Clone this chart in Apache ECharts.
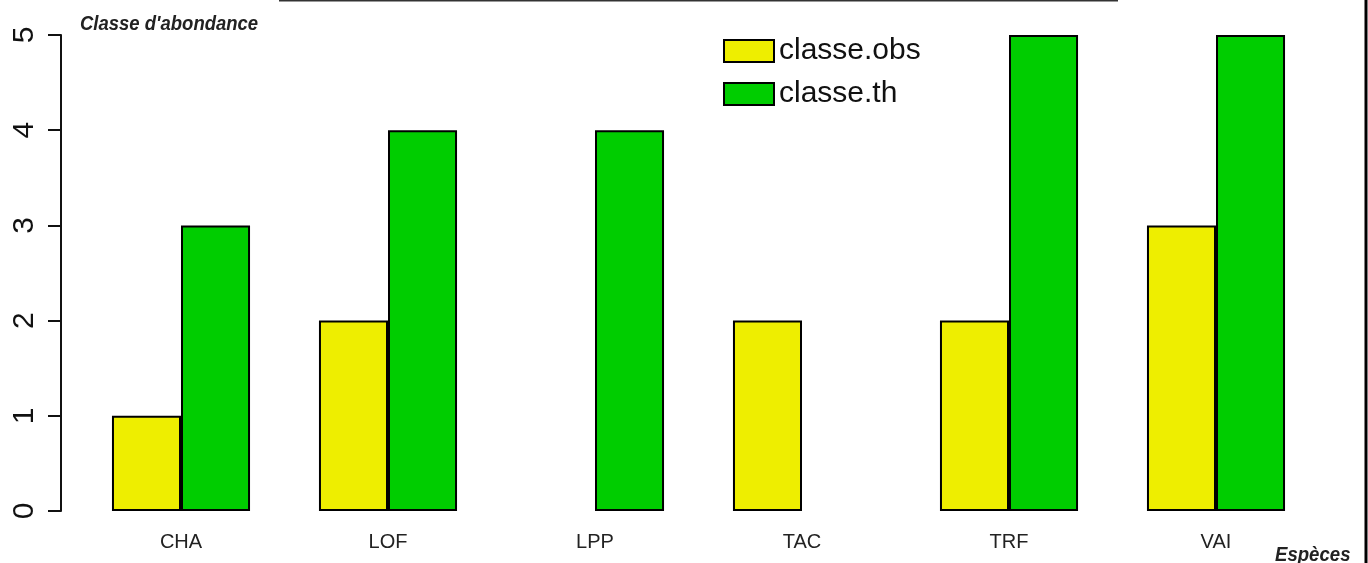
<!DOCTYPE html>
<html>
<head>
<meta charset="utf-8">
<script src="https://cdn.jsdelivr.net/npm/echarts@6/dist/echarts.min.js"></script>
<style>
  html, body { margin: 0; padding: 0; background: #fff; }
  #chart { width: 1368px; height: 563px; }
</style>
</head>
<body>
<div id="chart"></div>
<script>
var especes = ['CHA', 'LOF', 'LPP', 'TAC', 'TRF', 'VAI']
var classeObs = [1, 2, 0, 2, 2, 3]
var classeTh = [3, 4, 4, 0, 5, 5]
var yTicks = [0, 1, 2, 3, 4, 5]

// R barplot draws nothing for a zero bar
function noZero(arr) {
  return arr.map(function (v) { return v === 0 ? null : v })
}

var chart = echarts.init(document.getElementById('chart'))
var font = '"Liberation Sans", Arial, sans-serif'

var option = {
  animation: false,
  backgroundColor: '#fff',
  textStyle: { fontFamily: font },
  grid: { left: 77.5, right: 48.5, top: 35, bottom: 52 },
  legend: {
    orient: 'vertical',
    left: 718,
    top: 31,
    itemWidth: 50,
    itemHeight: 22,
    itemGap: 13,
    icon: 'rect',
    itemStyle: { borderColor: '#000', borderWidth: 2 },
    textStyle: { fontSize: 30, color: '#111', fontFamily: font },
    data: ['classe.obs', 'classe.th']
  },
  xAxis: {
    type: 'category',
    data: especes,
    axisLine: { show: false },
    axisTick: { show: false },
    axisLabel: { fontSize: 20, color: '#222', margin: 21, fontFamily: font }
  },
  yAxis: {
    type: 'value',
    min: yTicks[0],
    max: yTicks[yTicks.length - 1],
    interval: 1,
    offset: 16.5,
    splitLine: { show: false },
    axisLine: { show: true, lineStyle: { color: '#111', width: 2 } },
    axisTick: { show: true, length: 13, lineStyle: { color: '#111', width: 2 } },
    axisLabel: { rotate: 90, fontSize: 30, color: '#111', margin: 21, fontFamily: font }
  },
  series: [
    {
      name: 'classe.obs',
      type: 'bar',
      barGap: '0%',
      barCategoryGap: '33.3%',
      itemStyle: { color: '#EEEE00', borderColor: '#000', borderWidth: 2 },
      data: noZero(classeObs)
    },
    {
      name: 'classe.th',
      type: 'bar',
      itemStyle: { color: '#00CD00', borderColor: '#000', borderWidth: 2 },
      data: noZero(classeTh)
    }
  ],
  graphic: [
    {
      type: 'text', x: 80, y: 14, scaleX: 0.925,
      style: { text: "Classe d'abondance", fontSize: 20, fontStyle: 'italic', fontWeight: 'bold',
        fill: '#222', fontFamily: font }
    },
    {
      type: 'text', x: 1275, y: 545, scaleX: 0.93,
      style: { text: 'Espèces', fontSize: 20, fontStyle: 'italic', fontWeight: 'bold',
        fill: '#222', fontFamily: font }
    },
    {
      type: 'line', shape: { x1: 279, y1: 0.5, x2: 1118, y2: 0.5 },
      style: { stroke: '#333', lineWidth: 2 }
    },
    {
      type: 'line', shape: { x1: 1366, y1: 0, x2: 1366, y2: 563 },
      style: { stroke: '#000', lineWidth: 3 }
    }
  ]
}
chart.setOption(option)
</script>
</body>
</html>
